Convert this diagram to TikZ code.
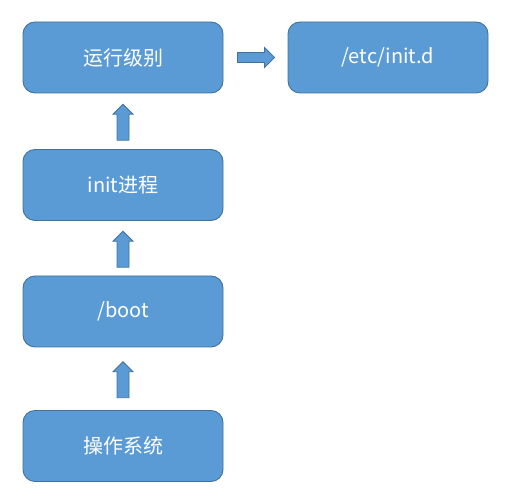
\documentclass[tikz,border=0pt]{standalone}
\usepackage{fontspec}
\setmainfont{Noto Sans CJK SC}
\usepackage{tikz}
\usetikzlibrary{calc}

\definecolor{boxfill}{HTML}{5B9BD5}
\definecolor{boxline}{HTML}{41719C}

\tikzset{
  stage/.style={draw=boxline, line width=0.9pt, fill=boxfill, rounded corners=12pt,
    minimum width=200pt, minimum height=71pt, inner sep=0pt,
    text=white, font=\fontsize{20}{24}\selectfont},
  blockarrow/.style={draw=boxline, line width=0.8pt, fill=boxfill, line join=miter}
}

% block arrow pointing up, centred between two nodes
\newcommand{\uparrowbetween}[2]{%
  \path ($(#1.north)!0.5!(#2.south)$) coordinate (mid);
  \draw[blockarrow] ($(mid)+(-6,-19)$) -- ($(mid)+(6,-19)$) -- ($(mid)+(6,7)$)
    -- ($(mid)+(10,7)$) -- ($(mid)+(0,17)$) -- ($(mid)+(-10,7)$)
    -- ($(mid)+(-6,7)$) -- cycle;
}

\begin{document}
\begin{tikzpicture}[x=1pt, y=1pt]
    \useasboundingbox (0,0) rectangle (508,500);

    % stages
    \node[stage] (runlevel) at (123,442.5) {运行级别};
    \node[stage] (initd)    at (388,442.5) {/etc/init.d};
    \node[stage] (initproc) at (123,315)   {init进程};
    \node[stage] (boot)     at (123,188.5) {/boot};
    \node[stage] (os)       at (123,54)    {操作系统};

    % upward arrows
    \uparrowbetween{os}{boot}
    \uparrowbetween{boot}{initproc}
    \uparrowbetween{initproc}{runlevel}

    % arrow to the right
    \path ($(runlevel.east)!0.5!(initd.west)$) coordinate (mid);
    \draw[blockarrow] ($(mid)+(-18,-5)$) -- ($(mid)+(9,-5)$) -- ($(mid)+(9,-10)$)
      -- ($(mid)+(19,0)$) -- ($(mid)+(9,10)$) -- ($(mid)+(9,5)$)
      -- ($(mid)+(-18,5)$) -- cycle;

\end{tikzpicture}
\end{document}
